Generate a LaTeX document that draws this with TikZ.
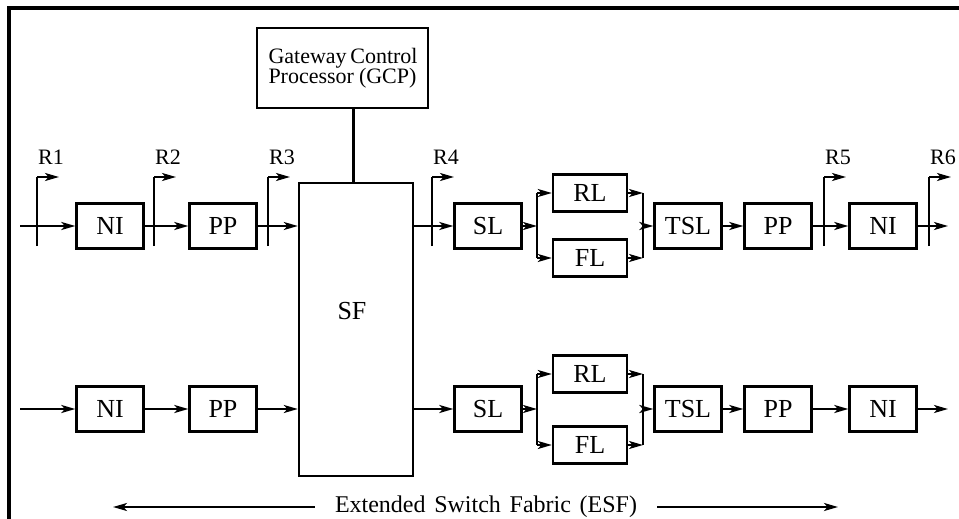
\documentclass[tikz,border=0pt]{standalone}
\usepackage{fontspec}
\setmainfont{Liberation Serif}
\usetikzlibrary{arrows.meta,calc}
\newcommand\gcpfont{\fontsize{11}{10}\selectfont\lineskiplimit=-6pt\relax}

\begin{document}
\begin{tikzpicture}[
    x=0.5pt, y=-0.5pt,
    every node/.style={font=\fontsize{13}{15}\selectfont},
    blk/.style={rectangle, draw, line width=1.2pt, minimum width=33.5pt, minimum height=22.5pt, inner sep=0pt},
    lbox/.style={blk, minimum width=37pt, minimum height=18.5pt},
    link/.style={line width=1.1pt},
    arr/.style={link, -{Stealth[length=7pt,width=4pt,inset=1.8pt]}},
    rlab/.style={font=\fontsize{11}{13}\selectfont, inner sep=0pt}
  ]
  \useasboundingbox (0,0) rectangle (959,519);

  % frame (top and left edge only)
  \coordinate (frametr) at (959,8);
  \coordinate (framebl) at (9,519);
  \draw[line width=2pt] (frametr) -| (framebl);

  % control processor and switch fabric
  \node[blk, minimum width=85.5pt, minimum height=40pt, font=\gcpfont, align=center] (gcp) at (342.5,68)
        {\makebox[74pt][s]{Gateway Control}\\\makebox[74pt][s]{Processor (GCP)}};
  \node[blk, minimum width=57pt, minimum height=146.5pt] (sf) at (356,329.5) {};
  \node (sflab) at (352,311) {SF};
  \coordinate (gcptap) at ($(gcp.south)+(11,0)$);
  \draw[link] (gcptap) -- (gcptap |- sf.north);

  % the two paths
  \foreach \r/\y/\ry/\fy in {a/226/193/258, b/409/374/445} {
    \node[blk] (ni\r) at (110,\y) {NI};
    \node[blk] (pp\r) at (223,\y) {PP};
    \node[blk] (sl\r) at (488,\y) {SL};
    \node[lbox] (rl\r) at (590,\ry) {RL};
    \node[lbox] (fl\r) at (590,\fy) {FL};
    \node[blk] (tsl\r) at (688,\y) {TSL};
    \node[blk] (pq\r) at (778,\y) {PP};
    \node[blk] (no\r) at (883,\y) {NI};
    \coordinate (in\r) at (20,\y);
    \coordinate (out\r) at (948,\y);
    \coordinate (split\r) at (537,\y);
    \coordinate (join\r) at (643,\y);
    \draw[arr] (in\r) -- (ni\r);
    \draw[arr] (ni\r) -- (pp\r);
    \draw[arr] (pp\r) -- (pp\r -| sf.west);
    \draw[arr] (sl\r -| sf.east) -- (sl\r);
    \draw[arr] (sl\r) -- (split\r);
    \draw[link] (split\r |- rl\r) -- (split\r |- fl\r);
    \draw[arr] (split\r |- rl\r) -- (rl\r);
    \draw[arr] (split\r |- fl\r) -- (fl\r);
    \draw[arr] (rl\r) -- (join\r |- rl\r);
    \draw[arr] (fl\r) -- (join\r |- fl\r);
    \draw[link] (join\r |- rl\r) -- (join\r |- fl\r);
    \draw[arr] (join\r) -- (tsl\r);
    \draw[arr] (tsl\r) -- (pq\r);
    \draw[arr] (pq\r) -- (no\r);
    \draw[arr] (no\r) -- (out\r);
  }

  % reference points R1..R6
  \foreach \n/\x in {1/37, 2/154, 3/268, 4/432, 5/824, 6/929} {
    \coordinate (rb\n) at (\x,246);
    \coordinate (rt\n) at (\x,177);
    \coordinate (rf\n) at (\x+22,177);
    \draw[link] (rb\n) -- (rt\n);
    \draw[arr] (rt\n) -- (rf\n);
    \node[rlab] (rl\n) at ($(rt\n)+(14,-20)$) {R\n};
  }

  % extent of the extended switch fabric
  \node[font=\fontsize{12}{14}\selectfont, inner xsep=10pt, inner ysep=0pt] (esf) at (486,507)
       {\makebox[151pt][s]{Extended Switch Fabric (ESF)}};
  \coordinate (esfl) at (113,507);
  \coordinate (esfr) at (838,507);
  \draw[arr] (esf.west) -- (esfl);
  \draw[arr] (esf.east) -- (esfr);
\end{tikzpicture}
\end{document}
